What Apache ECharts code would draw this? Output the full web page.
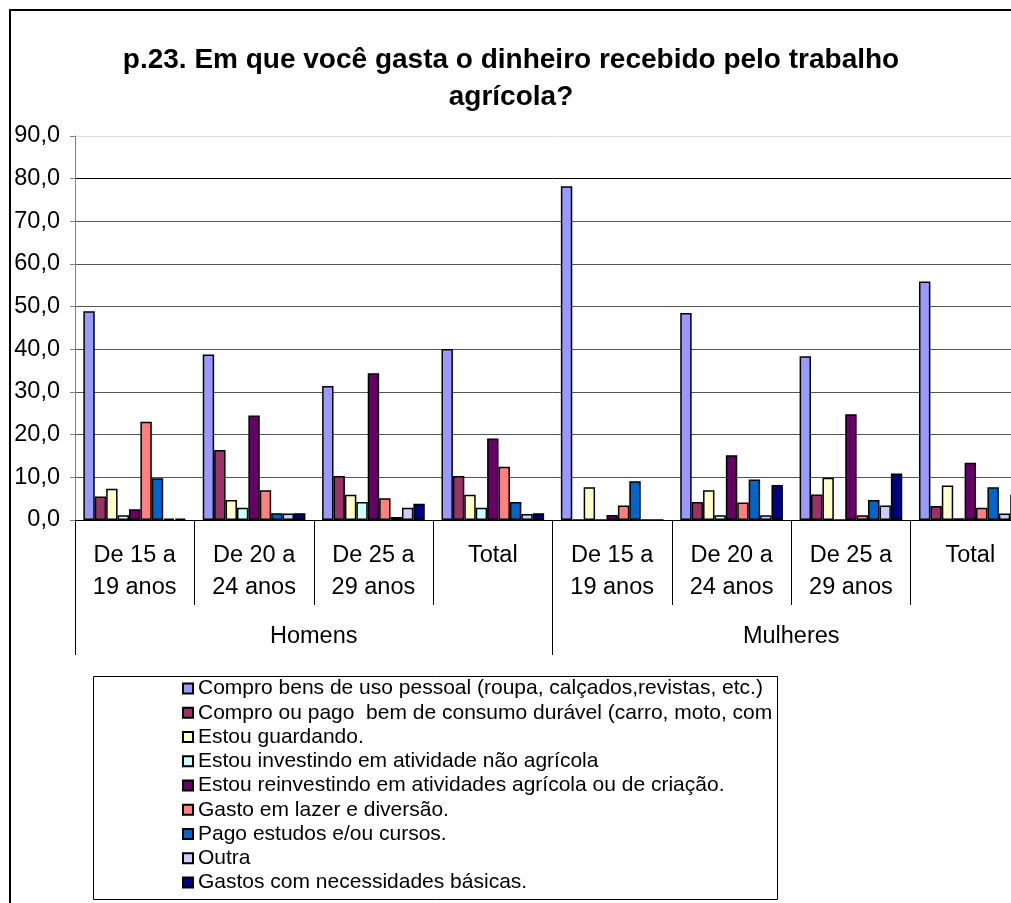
<!DOCTYPE html>
<html>
<head>
<meta charset="utf-8">
<script src="https://cdn.jsdelivr.net/npm/echarts@6/dist/echarts.min.js"></script>
<style>
  html, body { margin: 0; padding: 0; background: #fff; overflow: hidden; }
  #chart { width: 1040px; height: 903px; }
</style>
</head>
<body>
<div id="chart"></div>
<script>
// categorias (dois niveis)
var faixas = ['De 15 a\n19 anos', 'De 20 a\n24 anos', 'De 25 a\n29 anos', 'Total',
              'De 15 a\n19 anos', 'De 20 a\n24 anos', 'De 25 a\n29 anos', 'Total'];
var sexos = ['Homens', 'Mulheres'];
var yTicks = [0, 10, 20, 30, 40, 50, 60, 70, 80, 90];

var nomes = [
	'Compro bens de uso pessoal (roupa, calçados,revistas, etc.)',
	'Compro ou pago  bem de consumo durável (carro, moto, computa',
	'Estou guardando.',
	'Estou investindo em atividade não agrícola',
	'Estou reinvestindo em atividades agrícola ou de criação.',
	'Gasto em lazer e diversão.',
	'Pago estudos e/ou cursos.',
	'Outra',
	'Gastos com necessidades básicas.'
];

// valores por serie, na ordem das faixas
var bensPessoal   = [48.9, 38.8, 31.4, 40.1, 78.2, 48.5, 38.4, 55.9];
var bemDuravel    = [5.5, 16.4, 10.3, 10.3, 0, 4.2, 6.0, 3.3];
var guardando     = [7.3, 4.7, 5.9, 5.9, 7.7, 7.0, 9.9, 8.1];
var naoAgricola   = [1.1, 2.9, 4.2, 2.9, 0, 1.1, 0, 0.4];
var reinvestindo  = [2.5, 24.5, 34.4, 19.1, 1.2, 15.2, 24.8, 13.4];
var lazer         = [23.0, 7.0, 5.1, 12.5, 3.4, 4.1, 1.1, 2.9];
var estudos       = [9.8, 1.6, 0.7, 4.2, 9.1, 9.5, 4.7, 7.7];
var outra         = [0.3, 1.5, 2.9, 1.4, 0, 1.1, 3.4, 1.5];
var necessidades  = [0.3, 1.6, 3.8, 1.6, 0, 8.2, 10.9, 5.9];

var valores = [bensPessoal, bemDuravel, guardando, naoAgricola, reinvestindo,
               lazer, estudos, outra, necessidades];
var cores = ['#9999FF', '#993366', '#FFFFCC', '#CCFFFF', '#660066',
             '#FF8080', '#0066CC', '#CCCCFF', '#000080'];

var fonte = 'Arial, "Liberation Sans", sans-serif';

var myChart = echarts.init(document.getElementById('chart'));

var series = [];
for (var i = 0; i < nomes.length; i++) {
	series.push({
		name: nomes[i],
		type: 'bar',
		xAxisIndex: 0,
		data: valores[i],
		barGap: '0%',
		barCategoryGap: '14%',
		itemStyle: { color: cores[i], borderColor: '#000', borderWidth: 1.5 },
		animation: false
	});
}

var option = {
	animation: false,
	backgroundColor: '#fff',
	title: {
		text: 'p.23. Em que você gasta o dinheiro recebido pelo trabalho\nagrícola?',
		left: 511,
		top: 42,
		padding: 0,
		textAlign: 'center',
		textStyle: {
			fontFamily: fonte,
			fontSize: 28,
			fontWeight: 'bold',
			color: '#000',
			lineHeight: 37
		}
	},
	legend: {
		orient: 'vertical',
		left: 182,
		top: 678,
		padding: 0,
		icon: 'rect',
		itemWidth: 10,
		itemHeight: 10,
		itemGap: 3.25,
		selectedMode: false,
		textStyle: {
			fontFamily: fonte,
			fontSize: 21,
			color: '#000',
			lineHeight: 21,
			width: 578,
			overflow: 'truncate',
			ellipsis: ''
		},
		data: nomes
	},
	grid: {
		left: 75,
		right: 10,
		top: 136,
		bottom: 383
	},
	xAxis: [
		{
			type: 'category',
			data: faixas,
			position: 'bottom',
			axisLine: { show: true, lineStyle: { color: '#000', width: 1 } },
			axisTick: { show: true, length: 85, interval: 0, lineStyle: { color: '#000' } },
			axisLabel: {
				interval: 0,
				margin: 20,
				fontFamily: fonte,
				fontSize: 23.5,
				color: '#000',
				lineHeight: 32
			}
		},
		{
			type: 'category',
			data: sexos,
			position: 'bottom',
			axisLine: { show: false },
			axisTick: { show: true, length: 135, interval: 0, lineStyle: { color: '#000' } },
			axisLabel: {
				interval: 0,
				margin: 101,
				fontFamily: fonte,
				fontSize: 23.5,
				color: '#000',
				lineHeight: 32
			}
		}
	],
	yAxis: {
		type: 'value',
		min: yTicks[0],
		max: yTicks[yTicks.length - 1],
		interval: 10,
		axisLine: { show: true, lineStyle: { color: '#808080' } },
		axisTick: { show: true, length: 5, lineStyle: { color: '#808080' } },
		axisLabel: {
			margin: 15,
			fontFamily: fonte,
			fontSize: 23.5,
			color: '#000',
			formatter: function (v) { return v.toFixed(1).replace('.', ','); }
		},
		splitLine: {
			show: true,
			lineStyle: {
				color: ['#000', '#555', '#555', '#555', '#555', '#555', '#555', '#555', '#000', '#e0e0e0'],
				width: 1
			}
		}
	},
	graphic: [
		{
			type: 'rect',
			shape: { x: 10, y: 10, width: 1200, height: 1000 },
			style: { fill: 'none', stroke: '#000', lineWidth: 2 },
			silent: true,
			z: 100
		},
		{
			type: 'rect',
			shape: { x: 93.5, y: 676.5, width: 684, height: 223 },
			style: { fill: 'none', stroke: '#000', lineWidth: 1 },
			silent: true,
			z: 100
		}
	],
	series: series
};

myChart.setOption(option);
</script>
</body>
</html>
